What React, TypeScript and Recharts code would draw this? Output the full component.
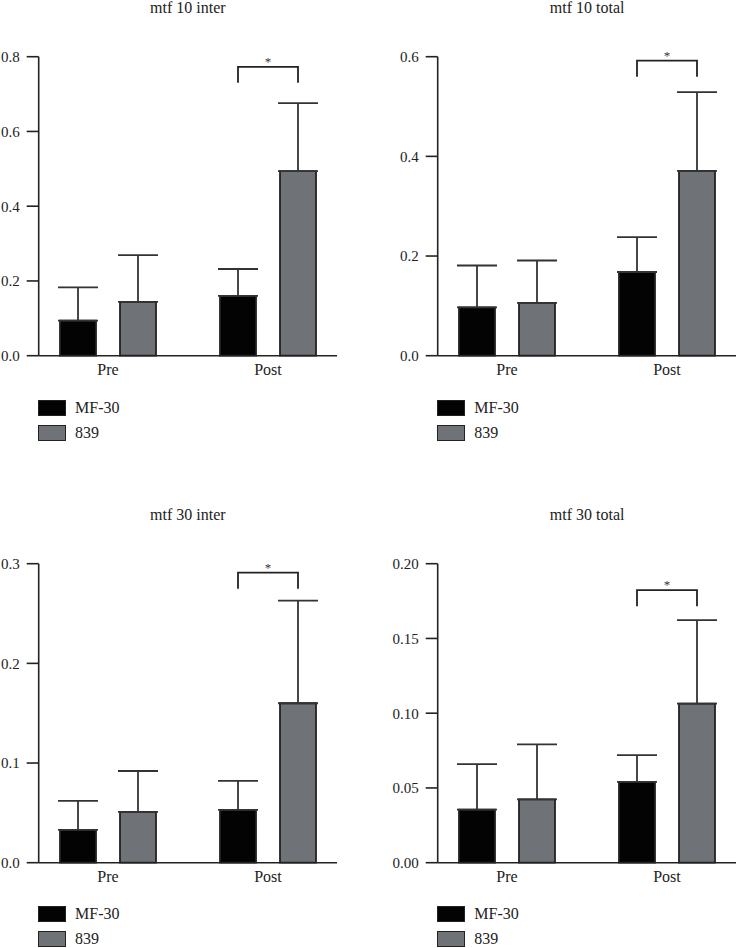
import React from "react";
import { BarChart, Bar, XAxis, YAxis, ErrorBar, Legend, Rectangle } from "recharts";

const categories = ["Pre", "Post"];
const seriesNames = ["MF-30", "839"];

// mean and upper SD for every panel
const mtf10InterMf30 = [0.094, 0.16];
const mtf10InterMf30Sd = [0.089, 0.072];
const mtf10Inter839 = [0.144, 0.494];
const mtf10Inter839Sd = [0.125, 0.182];

const mtf10TotalMf30 = [0.097, 0.168];
const mtf10TotalMf30Sd = [0.084, 0.07];
const mtf10Total839 = [0.106, 0.371];
const mtf10Total839Sd = [0.085, 0.158];

const mtf30InterMf30 = [0.033, 0.053];
const mtf30InterMf30Sd = [0.029, 0.029];
const mtf30Inter839 = [0.051, 0.16];
const mtf30Inter839Sd = [0.041, 0.103];

const mtf30TotalMf30 = [0.0355, 0.054];
const mtf30TotalMf30Sd = [0.0305, 0.018];
const mtf30Total839 = [0.0423, 0.1064];
const mtf30Total839Sd = [0.0368, 0.0559];

// height of the significance bracket over "Post"
const bracketLevels = [0.773, 0.592, 0.291, 0.1823];

const titles = ["mtf 10 inter", "mtf 10 total", "mtf 30 inter", "mtf 30 total"];
const yTicks = [
  [0, 0.2, 0.4, 0.6, 0.8],
  [0, 0.2, 0.4, 0.6],
  [0, 0.1, 0.2, 0.3],
  [0, 0.05, 0.1, 0.15, 0.2],
];
const yDecimals = [1, 1, 1, 2];

const FONT = '"Liberation Serif", "DejaVu Serif", serif';
const BLACK = "#030303";
const GREY = "#6f7377";
const EDGE = "#222";
const BAR_SIZE = 36;
const BAR_GAP = 24;
const LEG = 16;

const SHIFT = 30;
const PANEL_W = 430;
const PANEL_H = 450;
const AXIS_W = 38.7 + SHIFT;
const PLOT_TOP = 56.7;
const PLOT_W = 298.3;
const PLOT_H = 299;
const X_AXIS_H = 30;

const panelPos = [
  { left: -SHIFT, top: 0 },
  { left: 399.3 - SHIFT, top: 0 },
  { left: -SHIFT, top: 506.6 },
  { left: 399.3 - SHIFT, top: 506.6 },
];

const buildData = (
  mf: number[],
  mfSd: number[],
  g: number[],
  gSd: number[],
  bracket: number
) =>
  categories.map((name, i) => ({
    name,
    mf30: mf[i],
    mf30Err: [0, mfSd[i]],
    g839: g[i],
    g839Err: [0, gSd[i]],
    bracket: name === "Post" ? bracket : null,
  }));

const panels = [
  buildData(mtf10InterMf30, mtf10InterMf30Sd, mtf10Inter839, mtf10Inter839Sd, bracketLevels[0]),
  buildData(mtf10TotalMf30, mtf10TotalMf30Sd, mtf10Total839, mtf10Total839Sd, bracketLevels[1]),
  buildData(mtf30InterMf30, mtf30InterMf30Sd, mtf30Inter839, mtf30Inter839Sd, bracketLevels[2]),
  buildData(mtf30TotalMf30, mtf30TotalMf30Sd, mtf30Total839, mtf30Total839Sd, bracketLevels[3]),
];

// 839 bar, plus the "*" bracket joining it with the MF-30 bar of the same group
const BracketBar = (props: any) => {
  const { x, y, width, height, payload, fill } = props;
  const rect = (
    <Rectangle x={x} y={y} width={width} height={height} fill={fill} stroke={EDGE} strokeWidth={1.8} />
  );
  if (payload?.bracket == null || !height) return rect;
  const perUnit = height / payload.g839;
  const by = y + height - payload.bracket * perUnit;
  const rx = x + width / 2;
  const lx = rx - (BAR_SIZE + BAR_GAP);
  return (
    <g>
      {rect}
      <path
        d={`M${lx},${by + LEG} V${by} H${rx} V${by + LEG}`}
        fill="none"
        stroke={EDGE}
        strokeWidth={1.8}
      />
      <text x={(lx + rx) / 2} y={by - 1} textAnchor="middle" fontSize={13} fontFamily={FONT} fill="#333">
        *
      </text>
    </g>
  );
};

const LegendBoxes = ({ payload }: any) => {
  const items = [...(payload || [])].sort(
    (a: any, b: any) => seriesNames.indexOf(a.value) - seriesNames.indexOf(b.value)
  );
  return (
    <div style={{ fontFamily: FONT, fontSize: 16, color: "#222" }}>
      {items.map((entry: any) => (
        <div key={entry.value} style={{ display: "flex", alignItems: "center", height: 25 }}>
          <span
            style={{
              display: "inline-block",
              width: 26,
              height: 14,
              background: entry.color,
              border: `1.5px solid ${EDGE}`,
              marginRight: 9,
            }}
          />
          <span>{entry.value}</span>
        </div>
      ))}
    </div>
  );
};

const Panel = ({ index }: { index: number }) => {
  const data = panels[index];
  const ticks = yTicks[index];
  const dec = yDecimals[index];
  const pos = panelPos[index];
  return (
    <div style={{ position: "absolute", left: pos.left, top: pos.top, width: PANEL_W, height: PANEL_H }}>
      <div
        style={{
          position: "absolute",
          left: AXIS_W,
          width: PLOT_W,
          top: 0,
          textAlign: "center",
          fontFamily: FONT,
          fontSize: 16,
          lineHeight: "16px",
          color: "#222",
        }}
      >
        {titles[index]}
      </div>
      <BarChart
        width={PANEL_W}
        height={PANEL_H}
        data={data}
        barSize={BAR_SIZE}
        barGap={BAR_GAP}
        margin={{
          top: PLOT_TOP,
          left: 0,
          right: PANEL_W - AXIS_W - PLOT_W,
          bottom: PANEL_H - PLOT_TOP - PLOT_H - X_AXIS_H,
        }}
      >
        <XAxis
          dataKey="name"
          height={X_AXIS_H}
          padding={{ left: -10.7, right: -11 }}
          tickLine={false}
          tickSize={6}
          axisLine={{ stroke: EDGE, strokeWidth: 1.6 }}
          tick={{ fill: "#222", fontSize: 16, fontFamily: FONT }}
        />
        <YAxis
          width={AXIS_W}
          domain={[ticks[0], ticks[ticks.length - 1]]}
          ticks={ticks}
          interval={0}
          tickSize={12}
          tickMargin={7}
          tickFormatter={(v: number) => v.toFixed(dec)}
          axisLine={{ stroke: EDGE, strokeWidth: 1.6 }}
          tickLine={{ stroke: EDGE, strokeWidth: 1.6 }}
          tick={{ fill: "#222", fontSize: 15, fontFamily: FONT }}
        />
        <Legend
          layout="vertical"
          align="center"
          verticalAlign="middle"
          content={<LegendBoxes />}
          wrapperStyle={{ left: 38 + SHIFT, top: 395, width: 150, height: 50 }}
        />
        <Bar
          dataKey="mf30"
          name={seriesNames[0]}
          fill={BLACK}
          stroke={EDGE}
          strokeWidth={1.8}
          isAnimationActive={false}
        >
          <ErrorBar dataKey="mf30Err" width={20} stroke="#333" strokeWidth={1.8} direction="y" />
        </Bar>
        <Bar
          dataKey="g839"
          name={seriesNames[1]}
          fill={GREY}
          shape={<BracketBar />}
          isAnimationActive={false}
        >
          <ErrorBar dataKey="g839Err" width={20} stroke="#333" strokeWidth={1.8} direction="y" />
        </Bar>
      </BarChart>
    </div>
  );
};

export default function App() {
  return (
    <div
      style={{
        position: "absolute",
        left: 0,
        top: 0,
        width: 737,
        height: 948,
        overflow: "hidden",
        background: "#fff",
      }}
    >
      {[0, 1, 2, 3].map((i) => (
        <Panel key={i} index={i} />
      ))}
    </div>
  );
}
